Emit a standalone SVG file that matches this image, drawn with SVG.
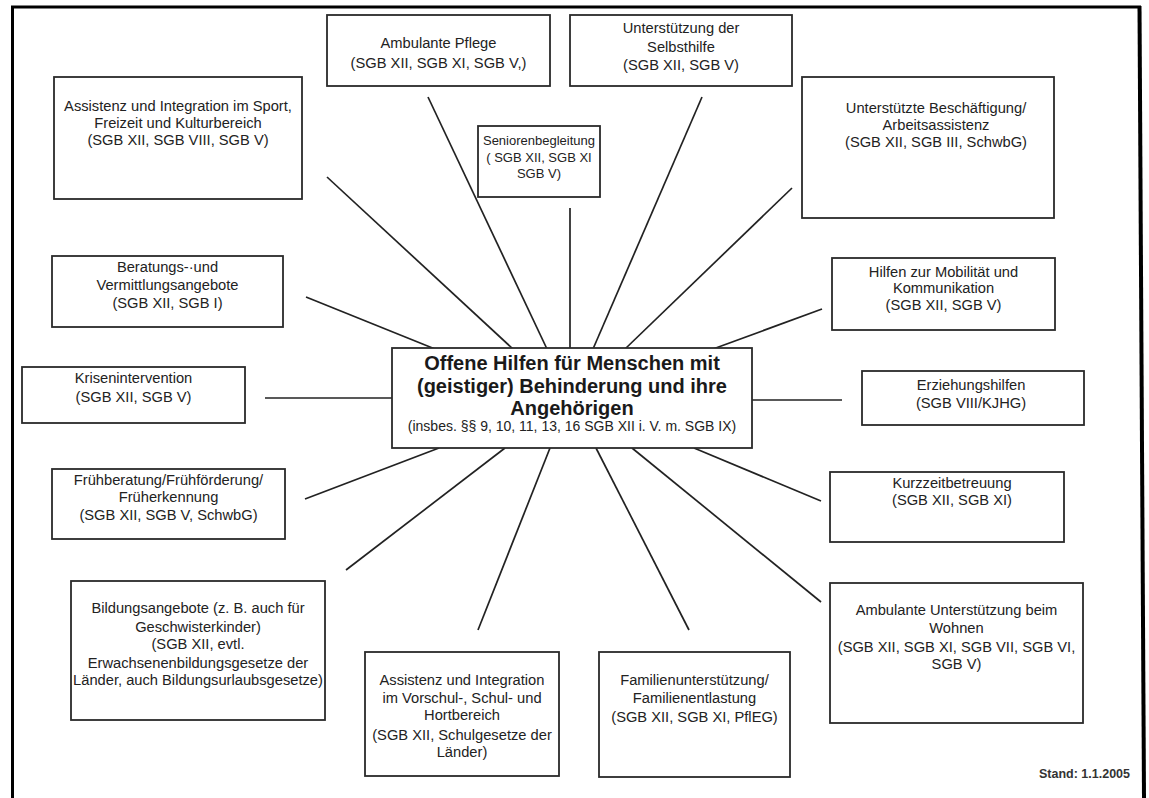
<svg xmlns="http://www.w3.org/2000/svg" width="1149" height="798" viewBox="0 0 1149 798">
<style>
.frame{stroke:#000;fill:none}
.box{fill:#fff;stroke:#2a2a2a;stroke-width:1.8}
.t{font-family:"Liberation Sans",Arial,sans-serif;font-size:14.7px;fill:#222;text-anchor:middle}
.t13{font-size:13px}
.b{font-family:"Liberation Sans",Arial,sans-serif;font-size:20px;font-weight:bold;fill:#1a1a1a;text-anchor:middle}
.s{font-family:"Liberation Sans",Arial,sans-serif;font-size:14px;fill:#222;text-anchor:middle}
.stand{font-family:"Liberation Sans",Arial,sans-serif;font-size:12.5px;font-weight:bold;fill:#333;text-anchor:end}
.c line{stroke:#222;stroke-width:1.7}
</style>
<rect width="1149" height="798" fill="#fff"/>
<g id="frame">
<line class="frame" x1="12.5" y1="6" x2="12.5" y2="798" stroke-width="3"/>
<line class="frame" x1="11" y1="7" x2="1141" y2="7" stroke-width="3"/>
<line class="frame" x1="1139.5" y1="6" x2="1144" y2="798" stroke-width="4"/>
</g>
<g id="connectors" class="c">
<line x1="327" y1="177" x2="513" y2="349"/>
<line x1="428" y1="97" x2="547" y2="349"/>
<line x1="570" y1="208" x2="570" y2="349"/>
<line x1="702" y1="97" x2="593" y2="349"/>
<line x1="792" y1="188" x2="625" y2="349"/>
<line x1="822" y1="309" x2="713" y2="349"/>
<line x1="306" y1="297" x2="435" y2="349"/>
<line x1="265" y1="398" x2="392" y2="398"/>
<line x1="752" y1="400" x2="842" y2="400"/>
<line x1="305" y1="499" x2="439" y2="448"/>
<line x1="346" y1="570" x2="505" y2="448"/>
<line x1="478" y1="630" x2="550" y2="448"/>
<line x1="689" y1="630" x2="596" y2="448"/>
<line x1="821" y1="602" x2="632" y2="448"/>
<line x1="821" y1="501" x2="694" y2="448"/>
</g>
<g id="sport">
<rect class="box" x="54" y="77" width="248" height="122"/>
<text class="t" x="178" y="111">Assistenz und Integration im Sport,</text>
<text class="t" x="178" y="128">Freizeit und Kulturbereich</text>
<text class="t" x="178" y="145">(SGB XII, SGB VIII, SGB V)</text>
</g>
<g id="pflege">
<rect class="box" x="327" y="15" width="223" height="71"/>
<text class="t" x="438.5" y="48">Ambulante Pflege</text>
<text class="t" x="438.5" y="68">(SGB XII, SGB XI, SGB V,)</text>
</g>
<g id="selbsthilfe">
<rect class="box" x="570" y="15" width="222" height="71"/>
<text class="t" x="681" y="33">Unterstützung der</text>
<text class="t" x="681" y="52">Selbsthilfe</text>
<text class="t" x="681" y="70">(SGB XII, SGB V)</text>
</g>
<g id="senioren">
<rect class="box" x="478" y="126" width="122" height="71"/>
<text class="t t13" x="539" y="145">Seniorenbegleitung</text>
<text class="t t13" x="539" y="162">( SGB XII, SGB XI</text>
<text class="t t13" x="539" y="178">SGB V)</text>
</g>
<g id="beschaeftigung">
<rect class="box" x="802" y="77" width="252" height="141"/>
<text class="t" x="936" y="113">Unterstützte Beschäftigung/</text>
<text class="t" x="936" y="130">Arbeitsassistenz</text>
<text class="t" x="936" y="147">(SGB XII, SGB III, SchwbG)</text>
</g>
<g id="beratung">
<rect class="box" x="52" y="256" width="231" height="71"/>
<text class="t" x="167.5" y="272">Beratungs-·und</text>
<text class="t" x="167.5" y="290">Vermittlungsangebote</text>
<text class="t" x="167.5" y="308">(SGB XII, SGB I)</text>
</g>
<g id="krisen">
<rect class="box" x="22" y="367" width="223" height="56"/>
<text class="t" x="133.5" y="383">Krisenintervention</text>
<text class="t" x="133.5" y="402">(SGB XII, SGB V)</text>
</g>
<g id="center">
<rect class="box" x="392" y="348" width="360" height="100"/>
<text class="b" x="572" y="370">Offene Hilfen für Menschen mit</text>
<text class="b" x="572" y="393">(geistiger) Behinderung und ihre</text>
<text class="b" x="572" y="415">Angehörigen</text>
<text class="s" x="572" y="431">(insbes. §§ 9, 10, 11, 13, 16 SGB XII i. V. m. SGB IX)</text>
</g>
<g id="mobilitaet">
<rect class="box" x="832" y="258" width="223" height="72"/>
<text class="t" x="943.5" y="277">Hilfen zur Mobilität und</text>
<text class="t" x="943.5" y="293">Kommunikation</text>
<text class="t" x="943.5" y="310">(SGB XII, SGB V)</text>
</g>
<g id="erziehung">
<rect class="box" x="862" y="371" width="222" height="54"/>
<text class="t" x="971" y="390">Erziehungshilfen</text>
<text class="t" x="971" y="408">(SGB VIII/KJHG)</text>
</g>
<g id="kurzzeit">
<rect class="box" x="830" y="472" width="234" height="70"/>
<text class="t" x="952" y="488">Kurzzeitbetreuung</text>
<text class="t" x="952" y="505">(SGB XII, SGB XI)</text>
</g>
<g id="frueh">
<rect class="box" x="52" y="469" width="233" height="70"/>
<text class="t" x="168.5" y="485">Frühberatung/Frühförderung/</text>
<text class="t" x="168.5" y="502">Früherkennung</text>
<text class="t" x="168.5" y="520">(SGB XII, SGB V, SchwbG)</text>
</g>
<g id="bildung">
<rect class="box" x="71" y="581" width="254" height="139"/>
<text class="t" x="198" y="613">Bildungsangebote (z. B. auch für</text>
<text class="t" x="198" y="632">Geschwisterkinder)</text>
<text class="t" x="198" y="649">(SGB XII, evtl.</text>
<text class="t" x="198" y="668">Erwachsenenbildungsgesetze der</text>
<text class="t" x="198" y="685">Länder, auch Bildungsurlaubsgesetze)</text>
</g>
<g id="vorschul">
<rect class="box" x="365" y="652" width="194" height="124"/>
<text class="t" x="462" y="685">Assistenz und Integration</text>
<text class="t" x="462" y="703">im Vorschul-, Schul- und</text>
<text class="t" x="462" y="720">Hortbereich</text>
<text class="t" x="462" y="740">(SGB XII, Schulgesetze der</text>
<text class="t" x="462" y="757">Länder)</text>
</g>
<g id="familien">
<rect class="box" x="599" y="652" width="191" height="125"/>
<text class="t" x="694.5" y="685">Familienunterstützung/</text>
<text class="t" x="694.5" y="703">Familienentlastung</text>
<text class="t" x="694.5" y="722">(SGB XII, SGB XI, PflEG)</text>
</g>
<g id="wohnen">
<rect class="box" x="830" y="583" width="253" height="140"/>
<text class="t" x="956.5" y="615">Ambulante Unterstützung beim</text>
<text class="t" x="956.5" y="633">Wohnen</text>
<text class="t" x="956.5" y="652">(SGB XII, SGB XI, SGB VII, SGB VI,</text>
<text class="t" x="956.5" y="669">SGB V)</text>
</g>
<text class="stand" x="1130" y="778">Stand: 1.1.2005</text>
</svg>
